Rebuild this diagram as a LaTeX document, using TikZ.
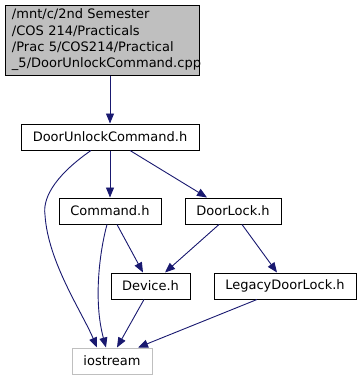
\documentclass[tikz,border=0pt]{standalone}
\usepackage{fontspec}
\setmainfont{DejaVu Sans}
\usetikzlibrary{positioning, arrows.meta}
\definecolor{edge}{HTML}{191970}
\definecolor{cur}{HTML}{BFBFBF}
\definecolor{ext}{HTML}{BFBFBF}

\begin{document}
\begin{tikzpicture}[x=1pt, y=-1pt, font=\fontsize{13}{16.3}\selectfont,
  f/.style={draw=black, fill=white, line width=1pt, inner sep=0pt, minimum height=26pt},
  fc/.style={f, fill=cur, align=left, text width=180pt, inner xsep=7pt, minimum height=70pt},
  fx/.style={f, draw=ext},
  arr/.style={-{Triangle[length=10pt, width=8pt]}, edge, line width=0.9pt}
]
  \useasboundingbox (0,0) rectangle (361,380);

  \node[fc] (src) at (102,40) {/mnt/c/2nd Semester\\/COS 214/Practicals\\/Prac 5/COS214/Practical\\\_5/DoorUnlockCommand.cpp};
  \node[f, minimum width=178pt] (duc) at (110,137) {DoorUnlockCommand.h};
  \node[f, minimum width=102pt] (cmd) at (110,211) {Command.h};
  \node[f, minimum width=96pt] (lock) at (233,211) {DoorLock.h};
  \node[f, minimum width=79pt] (dev) at (150.5,286) {Device.h};
  \node[f, minimum width=142pt] (legacy) at (285,286) {LegacyDoorLock.h};
  \node[fx, minimum width=80pt] (ios) at (112,361) {iostream};

  \draw[arr] ([xshift=8pt]src.south) -- (duc.north);
  \draw[arr] (duc.south) -- (cmd.north);
  \draw[arr] ([xshift=20pt]duc.south) -- ([xshift=-26pt]lock.north);
  \draw[arr] ([xshift=-19pt]duc.south) .. controls (60,172) and (42,195) .. (45,215)
    .. controls (48,262) and (82,312) .. ([xshift=-15pt]ios.north);
  \draw[arr] ([xshift=-3pt]cmd.south) .. controls (100,250) and (93,300) .. ([xshift=-6pt]ios.north);
  \draw[arr] ([xshift=7pt]cmd.south) -- ([xshift=-7.5pt]dev.north);
  \draw[arr] ([xshift=-14pt]lock.south) -- ([xshift=14.5pt]dev.north);
  \draw[arr] ([xshift=9pt]lock.south) -- ([xshift=-8pt]legacy.north);
  \draw[arr] ([xshift=-6.5pt]dev.south) -- ([xshift=5pt]ios.north);
  \draw[arr] ([xshift=-28pt]legacy.south) -- ([xshift=26pt]ios.north);
\end{tikzpicture}
\end{document}
